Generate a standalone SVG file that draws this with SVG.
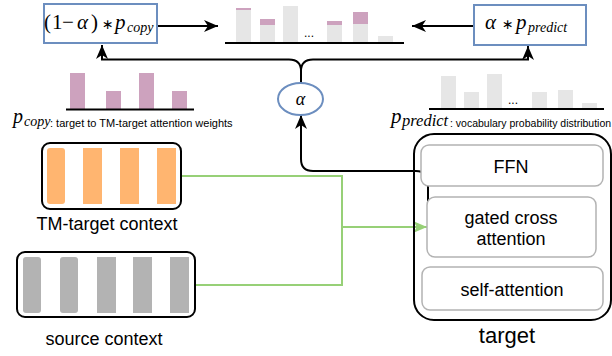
<svg xmlns="http://www.w3.org/2000/svg" width="612" height="356" viewBox="0 0 612 356">
<style>
.sans{font-family:"Liberation Sans",Arial,sans-serif;fill:#000}
.math{font-family:"Liberation Serif","Times New Roman",serif;fill:#000}
.op{font-family:"DejaVu Sans",sans-serif;font-style:normal}
.it{font-style:italic}
.blue{fill:#fff;stroke:#6c8ebf;stroke-width:2}
.blk{fill:#fff;stroke:#000;stroke-width:2}
.inner{fill:#fff;stroke:#b3b3b3;stroke-width:1.5}
.pink{fill:#cda2be}
.lg{fill:#e6e6e6}
.org{fill:#ffb570}
.gry{fill:#b3b3b3}
.base{stroke:#000;stroke-width:2}
.conn{fill:none;stroke:#000;stroke-width:2}
.gconn{fill:none;stroke:#97d077;stroke-width:2}
</style>
<defs>
<marker id="ah" markerUnits="userSpaceOnUse" markerWidth="14" markerHeight="12" refX="14" refY="6" orient="auto" viewBox="0 0 14 12">
<path d="M0,0 L14,6 L0,12 L4,6 z" fill="#000"/>
</marker>
<marker id="gah" markerUnits="userSpaceOnUse" markerWidth="14" markerHeight="12" refX="14" refY="6" orient="auto" viewBox="0 0 14 12">
<path d="M0,0 L14,6 L0,12 L4,6 z" fill="#97d077"/>
</marker>
</defs>

<g id="connectors">
<line class="conn" x1="158" y1="26" x2="218" y2="26" marker-end="url(#ah)"/>
<line class="conn" x1="474" y1="26" x2="412" y2="26" marker-end="url(#ah)"/>
<path class="conn" d="M301 83 V71 Q301 59.5 289 59.5 H102 V45" marker-end="url(#ah)"/>
<path class="conn" d="M301 71 Q301 59.5 313 59.5 H528 V46" marker-end="url(#ah)"/>
<path class="conn" d="M428 227 V183 Q428 171 416 171 H313 Q301 171 301 159 V115" marker-end="url(#ah)"/>
<path class="gconn" d="M181 176 H342 V285 H195"/>
<path class="gconn" d="M342 227 H427" marker-end="url(#gah)"/>
</g>

<g id="copy-weighted">
<rect class="blue" x="44" y="4" width="113" height="39"/>
<text class="math" y="29" font-size="21"><tspan x="44">(</tspan><tspan x="52">1</tspan><tspan x="62">−</tspan><tspan x="77" class="it">α</tspan><tspan x="91">)</tspan><tspan x="102" class="op" font-size="14">∗</tspan><tspan x="115" class="it">p</tspan><tspan x="127" dy="3" font-size="14" class="it">copy</tspan></text>
</g>

<g id="predict-weighted">
<rect class="blue" x="474" y="5" width="112" height="40"/>
<text class="math" y="29" font-size="21"><tspan x="485" class="it">α</tspan><tspan x="502" class="op" font-size="14">∗</tspan><tspan x="516" class="it">p</tspan><tspan x="528" dy="3" font-size="14" class="it">predict</tspan></text>
</g>

<g id="final-dist">
<rect class="lg" x="236" y="10" width="15" height="32"/><rect class="pink" x="236" y="8" width="15" height="2"/>
<rect class="lg" x="260" y="25" width="15" height="17"/><rect class="pink" x="260" y="19" width="15" height="6"/>
<rect class="lg" x="283" y="6" width="15" height="36"/>
<rect class="lg" x="327" y="25" width="15" height="17"/><rect class="pink" x="327" y="21" width="15" height="4"/>
<rect class="lg" x="353" y="24" width="15" height="18"/><rect class="pink" x="353" y="12" width="15" height="12"/>
<rect class="lg" x="378" y="36" width="15" height="6"/>
<text class="sans" x="304" y="37" font-size="12">...</text>
<line class="base" x1="225" y1="43" x2="404" y2="43"/>
</g>

<g id="copy-dist">
<rect class="pink" x="70" y="73" width="15" height="36"/>
<rect class="pink" x="106" y="91" width="15" height="18"/>
<rect class="pink" x="139" y="73" width="15" height="36"/>
<rect class="pink" x="172" y="91" width="15" height="18"/>
<line class="base" x1="66" y1="109.5" x2="194" y2="109.5"/>
<text class="math" y="123"><tspan x="13" font-size="20" class="it">p</tspan><tspan x="24" dy="3" font-size="14" class="it">copy</tspan></text>
<text class="sans" x="50" y="127" font-size="11">: target to TM-target attention weights</text>
</g>

<g id="predict-dist">
<rect class="lg" x="441" y="76" width="15" height="32"/>
<rect class="lg" x="464" y="92" width="15" height="16"/>
<rect class="lg" x="487" y="74" width="15" height="34"/>
<rect class="lg" x="532" y="92" width="15" height="16"/>
<rect class="lg" x="558" y="90" width="15" height="18"/>
<rect class="lg" x="582" y="103" width="15" height="5"/>
<text class="sans" x="508" y="104" font-size="12">...</text>
<line class="base" x1="429" y1="109" x2="604" y2="109"/>
<text class="math" y="123"><tspan x="391" font-size="21" class="it">p</tspan><tspan x="402" dy="3" font-size="16.5" class="it">predict</tspan></text>
<text class="sans" x="450" y="127" font-size="10.5">: vocabulary probability distribution</text>
</g>

<g id="alpha">
<ellipse cx="300.5" cy="99" rx="22.5" ry="16" fill="#fff" stroke="#6c8ebf" stroke-width="2"/>
<text class="math it" x="300.5" y="105" font-size="18" text-anchor="middle">α</text>
</g>

<g id="tm-target-context">
<rect class="blk" x="42" y="143" width="139" height="66" rx="8"/>
<rect class="org" x="47" y="148" width="18" height="56" rx="3"/>
<rect class="org" x="83" y="148" width="19" height="56"/>
<rect class="org" x="120" y="148" width="19" height="56"/>
<rect class="org" x="157" y="148" width="19" height="56"/>
<text class="sans" x="107" y="230" font-size="18" text-anchor="middle">TM-target context</text>
</g>

<g id="source-context">
<rect class="blk" x="17" y="252" width="178" height="65" rx="8"/>
<rect class="gry" x="23" y="257" width="18" height="56" rx="3"/>
<rect class="gry" x="60" y="257" width="18" height="56" rx="3"/>
<rect class="gry" x="97" y="257" width="19" height="56"/>
<rect class="gry" x="133" y="257" width="19" height="56"/>
<rect class="gry" x="170" y="257" width="19" height="56"/>
<text class="sans" x="104" y="345" font-size="18" text-anchor="middle">source context</text>
</g>

<g id="target">
<rect x="414" y="134" width="197" height="186" rx="20" fill="none" stroke="#000" stroke-width="2"/>
<text class="sans" x="507" y="343" font-size="22" text-anchor="middle">target</text>
</g>

<g id="ffn">
<rect class="inner" x="421" y="145" width="182" height="41" rx="8"/>
<text class="sans" x="511" y="173" font-size="18" text-anchor="middle">FFN</text>
</g>

<g id="gated-cross-attention">
<rect class="inner" x="427" y="197" width="169" height="60" rx="8"/>
<text class="sans" x="511" y="224" font-size="18" text-anchor="middle">gated cross</text>
<text class="sans" x="511" y="245" font-size="18" text-anchor="middle">attention</text>
</g>

<g id="self-attention">
<rect class="inner" x="422" y="267" width="181" height="43" rx="8"/>
<text class="sans" x="512" y="296" font-size="18" text-anchor="middle">self-attention</text>
</g>
</svg>
